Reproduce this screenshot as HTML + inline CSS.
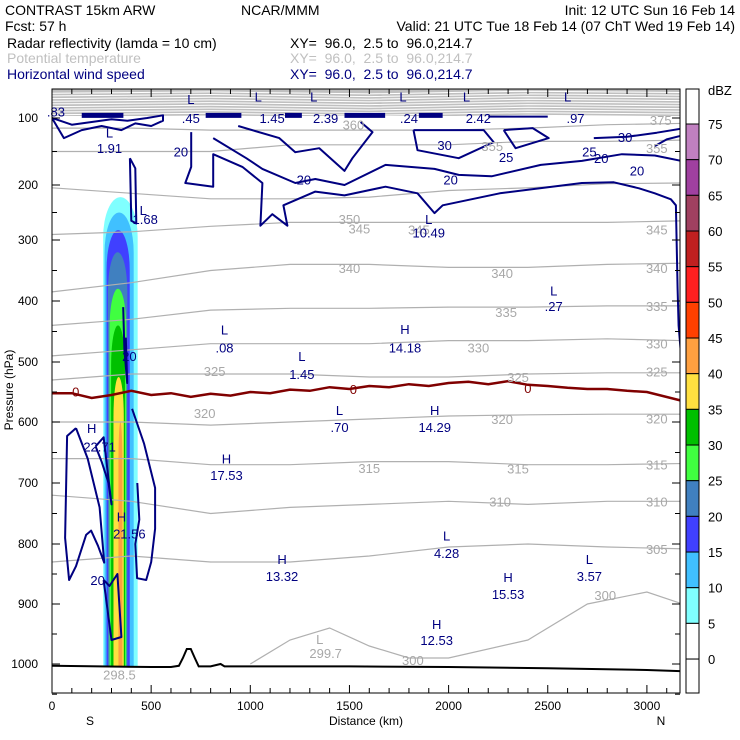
<!DOCTYPE html>
<html><head><meta charset="utf-8"><style>
html,body{margin:0;padding:0;background:#fff;}
svg{display:block;font-family:"Liberation Sans",sans-serif;}
</style></head><body>
<svg id="chart" width="740" height="740" viewBox="0 0 740 740" xmlns="http://www.w3.org/2000/svg">
<g font-size="14" fill="#000">
<text x="5" y="15">CONTRAST 15km ARW</text>
<text x="241" y="15">NCAR/MMM</text>
<text x="735" y="15" text-anchor="end">Init: 12 UTC Sun 16 Feb 14</text>
<text x="5" y="31">Fcst:   57 h</text>
<text x="735" y="31" text-anchor="end">Valid: 21 UTC Tue 18 Feb 14 (07 ChT Wed 19 Feb 14)</text>
<text x="7" y="48">Radar reflectivity (lamda = 10 cm)</text>
<text x="290" y="48" xml:space="preserve">XY=  96.0,  2.5 to  96.0,214.7</text>
<text x="7" y="63" fill="#c0c0c0">Potential temperature</text>
<text x="290" y="63" fill="#c0c0c0" xml:space="preserve">XY=  96.0,  2.5 to  96.0,214.7</text>
<text x="7" y="79" fill="#000080">Horizontal wind speed</text>
<text x="290" y="79" fill="#000080" xml:space="preserve">XY=  96.0,  2.5 to  96.0,214.7</text>
</g>
<defs><clipPath id="pc"><rect x="52" y="89" width="628" height="604"/></clipPath></defs>
<g id="plot" clip-path="url(#pc)"></g>
<g id="labels" font-size="13"></g>
<g id="axes" font-size="12"></g>
<g id="cbar"></g>
</svg>
<script>
// ---- data ----
const thetaKm = [0,400,800,1200,1600,2000,2400,2800,3180];
const thetaLevels = [360,355,350,345,340,335,330,325,320,315,310,305];
const theta360 = [115,115,118,118,118,118,115,110,108];
const theta355 = [150,150,150,140,140,140,135,135,133];
const theta350 = [205,215,225,225,222,210,205,198,197];
const theta345 = [290,285,275,268,268,268,268,268,265];
const theta340 = [385,370,350,340,340,345,345,340,338];
const theta335 = [440,430,415,412,412,410,410,408,408];
const theta330 = [490,480,470,470,470,465,465,462,465];
const theta325 = [530,520,520,520,525,525,520,518,518];
const theta320 = [600,600,605,600,595,590,588,587,587];
const theta315 = [660,660,670,670,665,665,670,670,668];
const theta310 = [720,730,750,740,735,730,735,730,730];
const theta305 = [830,820,830,830,820,805,800,805,808];
const theta300Km = [1000,1200,1400,1600,1800,2000,2400,2700,3000,3180];
const theta300 = [1000,960,940,970,990,990,960,900,880,900];
const upperThetaP = [97,93,89,85,81,77,73,69,65,61];

const zeroKm = [0,100,200,300,400,500,600,700,800,900,1000,1100,1200,1300,1400,1500,1600,1700,1800,1900,2000,2100,2200,2300,2400,2500,2600,2700,2800,2900,3000,3180];
const zeroP  = [552,552,560,555,548,555,552,558,553,556,550,552,546,548,542,545,540,542,537,540,535,533,537,532,538,540,543,545,545,548,550,565];

const terrainKm = [0,500,600,640,660,680,700,720,740,760,800,850,870,900,1500,2000,2500,3000,3180];
const terrainP  = [1003,1005,1005,1003,990,975,975,990,1004,1004,1004,1000,1004,1004,1004,1005,1007,1010,1012];

const wind20Km = [702,702,672,813,813,960,1061,1051,1111,1187,1167,1328,1475,1682,1843,1929,1970,2258,2672,2833,2960,3040,3121,3146,3150,3155,3160,3170,3190];
const wind20P  = [121,173,197,203,154,173,197,274,253,274,237,212,219,203,215,251,237,215,197,196,206,215,226,237,300,380,440,480,500];
const wind25Km = [813,980,1061,1227,1328,1475,1682,1929,2051,2217,2465,2672,2874,3040,3190];
const wind25P  = [130,160,176,197,191,200,170,176,185,187,170,164,154,156,165];
const wind30aKm = [939,1146,1227,1348,1475,1515,1616,1556];
const wind30aP  = [112,130,151,145,179,160,121,106];
const wind30bKm = [1823,1843,2051,2227,2177,1823];
const wind30bP  = [118,148,160,136,118,118];
const wind30cKm = [2278,2338,2505,2424,2278];
const wind30cP  = [118,145,130,115,118];
const wind30dKm = [2732,2900,3050,3190];
const wind30dP  = [130,128,122,115];
const wind30eKm = [3040,3100,3190];
const wind30eP  = [142,132,125];
const windLeftKm = [0,60,150,250,350,420,500,560,560,480,380,300,200,100,0];
const windLeftP  = [100,130,118,112,118,108,112,104,96,100,104,102,106,110,100];
const wind191Km = [393,420,425,400,393];
const wind191P  = [160,175,270,265,160];
const windLoopAKm = [121,76,66,86,121,172,197,232,263,240,180,121];
const windLoopAP  = [610,623,790,860,837,785,778,803,831,740,660,610];
const windLoopBKm = [404,464,520,520,500,475,429,420,440,430];
const windLoopBP  = [578,635,708,775,830,860,857,800,760,700];
const windColKm = [359,365,379,372];
const windColP  = [410,480,535,460];
const windBotKm = [260,300,350,330,290,260];
const windBotP  = [860,960,955,850,870,860];
const windMidKm = [220,260,300,285,250,220];
const windMidP  = [640,625,735,700,665,640];
const jetStartKm = [150,775,1175,1475,1850,2200];
const jetEndKm   = [360,955,1260,1680,1970,2500];
const jetP = [96,96,96,96,96,98];

const dbzLevels = [5,10,15,20,25,30,35,40];
const dbzColors = ["#80ffff","#40c0ff","#4040ff","#4080c0","#40ff40","#00c000","#ffe040","#ffa040"];
const dbzLeftKm = [258,265,275,282,290,298,310,335];
const dbzRightKm = [432,412,392,380,375,368,362,355];
const dbzTopP = [222,250,282,320,380,440,525,600];
const dbzBotP = [1005,1005,1005,1005,1005,1005,1005,1005];

const cbarLabels = [75,70,65,60,55,50,45,40,35,30,25,20,15,10,5,0];
const cbarColors = ["#c080c0","#a040a0","#a04060","#c02020","#ff2020","#ff4000","#ffa040","#ffe040","#00c000","#40ff40","#4080c0","#4040ff","#40c0ff","#80ffff","#ffffff"];

const xTicks = [0,500,1000,1500,2000,2500,3000];
const yTicks = [100,200,300,400,500,600,700,800,900,1000];
const yTickPx = [118,185,240,301,362,422,483,544,604,664];

const extremaText = ["L",".45","L","1.45","L","2.39","L",".24","L","2.42","L",".97",".83","L","1.91","L","1.68","L","10.49","L",".27","L",".08","H","14.18","L","1.45","L",".70","H","14.29","H","22.71","H","17.53","H","21.56","L","4.28","H","13.32","H","15.53","L","3.57","H","12.53"];
const extremaKm = [700,700,1040,1110,1320,1380,1770,1800,2090,2150,2600,2640,20,290,290,460,470,1900,1900,2530,2530,870,870,1780,1780,1260,1260,1450,1450,1930,1930,200,240,880,880,350,390,1990,1990,1160,1160,2300,2300,2710,2710,1940,1940];
const extremaP = [72,100,68,100,68,100,68,100,68,100,68,100,90,122,145,245,262,262,286,383,408,447,476,446,476,490,520,580,608,580,608,610,640,660,687,755,783,786,815,825,853,855,883,825,853,933,960];
const contourLabText = ["20","30","25","30","25","20","20","20","20","20","20","350","355","345","345","345","340","340","340","335","335","330","330","325","325","325","320","320","320","315","315","315","310","310","305","300","300","360","375","355","0","0","0","299.7","298.5","L"];
const contourLabKm = [650,1980,2290,2890,2710,2770,2950,1270,2010,390,230,1500,2220,1550,1850,3050,1500,2270,3050,2290,3050,2150,3050,820,2350,3050,770,2270,3050,1600,2350,3050,2260,3050,3050,2790,1820,1520,3070,3050,120,1520,2400,1380,340,1350];
const contourLabP = [150,140,158,128,150,160,178,192,192,490,860,262,142,279,281,281,346,354,346,418,408,476,470,515,525,516,585,595,594,675,676,670,730,730,808,885,993,110,103,145,549,545,543,982,1017,958];
const contourLabColor = ["n","n","n","n","n","n","n","n","n","n","n","g","g","g","g","g","g","g","g","g","g","g","g","g","g","g","g","g","g","g","g","g","g","g","g","g","g","g","g","g","r","r","r","g","g","g"];

const X0=52, KM2PX=0.1983;
function xs(km){return X0+km*KM2PX;}
function ys(p){
  if(p<=yTicks[0]) return yTickPx[0]-(yTicks[0]-p)*0.67;
  for(let i=0;i<yTicks.length-1;i++){
    if(p<=yTicks[i+1]){const t=(p-yTicks[i])/(yTicks[i+1]-yTicks[i]);return yTickPx[i]+t*(yTickPx[i+1]-yTickPx[i]);}
  }
  const n=yTicks.length-1;return yTickPx[n]+(p-yTicks[n])*0.604;
}
const NS="http://www.w3.org/2000/svg";
function mk(tag,attrs,parent){const e=document.createElementNS(NS,tag);for(const k in attrs)e.setAttribute(k,attrs[k]);parent.appendChild(e);return e;}
function pts(km,p){return km.map((k,i)=>xs(k).toFixed(1)+","+ys(p[i]).toFixed(1)).join(" ");}
const plot=document.getElementById('plot');

let band=mk('rect',{x:52,y:89,width:628,height:ys(97)-89,fill:"#c0c0c0"},plot);


upperThetaP.forEach(p=>{
  const l=mk('polyline',{points:pts([0,800,1600,2400,3180],[p+2,p,p+3,p-1,p+1]),fill:"none",stroke:"#fff","stroke-width":1},plot);
  
  
});

dbzLevels.forEach((lv,i)=>{
  const xl=xs(dbzLeftKm[i]),xr=xs(dbzRightKm[i]),yt=ys(dbzTopP[i]),yb=ys(dbzBotP[i]);
  const rx=(xr-xl)/2, ry=Math.min(40,(yb-yt)/3);
  const d=`M${xl},${yb} L${xl},${yt+ry} A${rx},${ry} 0 0 1 ${xr},${yt+ry} L${xr},${yb} Z`;
  const e=mk('path',{d:d,fill:dbzColors[i]},plot);
  
  
});

const thetaArrays=[theta360,theta355,theta350,theta345,theta340,theta335,theta330,theta325,theta320,theta315,theta310,theta305];
thetaArrays.forEach((arr,i)=>{
  const l=mk('polyline',{points:pts(thetaKm,arr),fill:"none",stroke:"#b0b0b0","stroke-width":1.2},plot);
  
  
});
let t300=mk('polyline',{points:pts(theta300Km,theta300),fill:"none",stroke:"#b0b0b0","stroke-width":1.2},plot);



const windSets=[[wind20Km,wind20P,"wind-contour-20"],[wind25Km,wind25P,"wind-contour-25"],[wind30aKm,wind30aP,"wind-contour-30a"],[wind30bKm,wind30bP,"wind-contour-30b"],[wind30cKm,wind30cP,"wind-contour-30c"],[wind30dKm,wind30dP,"wind-contour-30d"],[wind30eKm,wind30eP,"wind-contour-30e"],[windLeftKm,windLeftP,"wind-contour-left"],[wind191Km,wind191P,"wind-contour-low-loop"],[windLoopAKm,windLoopAP,"wind-contour-loop-a"],[windLoopBKm,windLoopBP,"wind-contour-loop-b"],[windColKm,windColP,"wind-contour-column"],[windBotKm,windBotP,"wind-contour-bottom"],[windMidKm,windMidP,"wind-contour-mid"]];
windSets.forEach(s=>{
  const l=mk('polyline',{points:pts(s[0],s[1]),fill:"none",stroke:"#000080","stroke-width":2,"stroke-linejoin":"round"},plot);
  
  
});
jetStartKm.forEach((k,i)=>{
  const l=mk('line',{x1:xs(k),x2:xs(jetEndKm[i]),y1:ys(jetP[i]),y2:ys(jetP[i]),stroke:"#000080","stroke-width":i==5?2:5},plot);
  
  
});

let z=mk('polyline',{points:pts(zeroKm,zeroP),fill:"none",stroke:"#800000","stroke-width":2.5},plot);


let tr=mk('polyline',{points:pts(terrainKm,terrainP),fill:"none",stroke:"#000","stroke-width":2},plot);



const lab=document.getElementById('labels');
contourLabText.forEach((t,i)=>{
  const c=contourLabColor[i]=="n"?"#000080":(contourLabColor[i]=="r"?"#800000":"#a8a8a8");
  const e=mk('text',{x:xs(contourLabKm[i]),y:ys(contourLabP[i])+5,"text-anchor":"middle",fill:c},lab);
  e.textContent=t;
  
  
});
extremaText.forEach((t,i)=>{
  const e=mk('text',{x:xs(extremaKm[i]),y:ys(extremaP[i])+5,"text-anchor":"middle",fill:"#000080"},lab);
  e.textContent=t;
  
  
});

const ax=document.getElementById('axes');
let fr=mk('rect',{x:52,y:89,width:628,height:604,fill:"none",stroke:"#000","stroke-width":1},ax);


for(let k=0;k<=3100;k+=100){
  const len=(k%500==0)?8:5;
  mk('line',{x1:xs(k),x2:xs(k),y1:693,y2:693-len,stroke:"#000"},ax);
  mk('line',{x1:xs(k),x2:xs(k),y1:89,y2:89+len,stroke:"#000"},ax);
}
xTicks.forEach(k=>{
  const e=mk('text',{x:xs(k),y:710,"text-anchor":"middle"},ax);
  e.textContent=k;
  
  
});
for(let p=100;p<=1050;p+=50){
  const len=(p%100==0)?8:5;
  mk('line',{x1:52,x2:52+len,y1:ys(p),y2:ys(p),stroke:"#000"},ax);
  mk('line',{x1:680,x2:680-len,y1:ys(p),y2:ys(p),stroke:"#000"},ax);
}
yTicks.forEach(p=>{
  const e=mk('text',{x:38,y:ys(p)+4,"text-anchor":"end"},ax);
  e.textContent=p;
  
  
});
let xt=mk('text',{x:366,y:725,"text-anchor":"middle"},ax);xt.textContent="Distance (km)";


let yt=mk('text',{x:13,y:390,"text-anchor":"middle",transform:"rotate(-90 13 390)"},ax);yt.textContent="Pressure (hPa)";


let sS=mk('text',{x:90,y:725,"text-anchor":"middle"},ax);sS.textContent="S";


let sN=mk('text',{x:661,y:725,"text-anchor":"middle"},ax);sN.textContent="N";



const cb=document.getElementById('cbar');
const cTop=124, cStep=35.67;
mk('rect',{x:686,y:89,width:13,height:cTop-89,fill:"#fff",stroke:"#000"},cb);
cbarColors.forEach((c,i)=>{
  const r=mk('rect',{x:686,y:cTop+i*cStep,width:13,height:cStep,fill:c,stroke:"#000"},cb);
  
  
});
mk('rect',{x:686,y:cTop+15*cStep,width:13,height:693-(cTop+15*cStep),fill:"#fff",stroke:"#000"},cb);
cbarLabels.forEach((v,i)=>{
  const e=mk('text',{x:708,y:cTop+i*cStep+5,"font-size":13},cb);
  e.textContent=v;
  
  
});
let u=mk('text',{x:708,y:95,"font-size":13},cb);u.textContent="dBZ";


</script>
</body></html>
